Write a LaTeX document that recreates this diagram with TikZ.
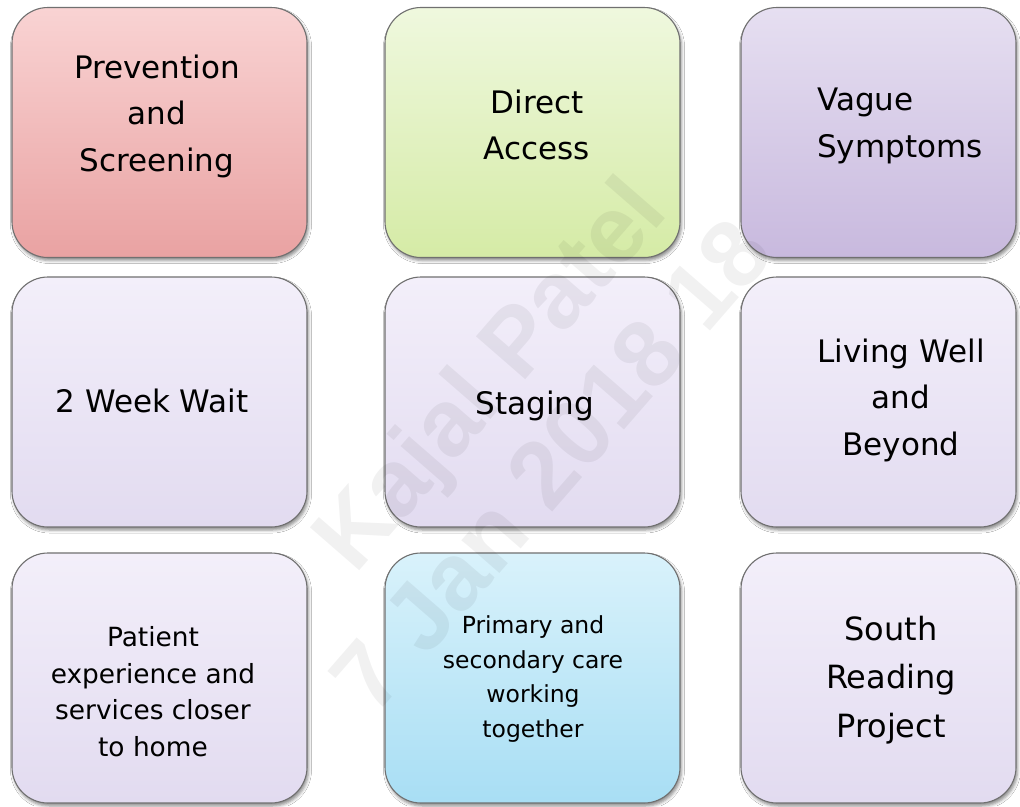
\documentclass[tikz,border=0pt]{standalone}
\usepackage{fontspec}
\setmainfont{DejaVu Sans}
\newfontfamily\wmfont{Liberation Sans}
\usetikzlibrary{shadows.blur}
\definecolor{pinkT}{HTML}{F9D3D3}
\definecolor{pinkB}{HTML}{E9A2A2}
\definecolor{greenT}{HTML}{EFF8DE}
\definecolor{greenB}{HTML}{D5EBA6}
\definecolor{purpT}{HTML}{E6DFF1}
\definecolor{purpB}{HTML}{C8B9DE}
\definecolor{lavT}{HTML}{F3EFFA}
\definecolor{lavB}{HTML}{E2DBF0}
\definecolor{blueT}{HTML}{D9F2FB}
\definecolor{blueB}{HTML}{A8DEF4}
\definecolor{boxline}{HTML}{707070}
\begin{document}
\begin{tikzpicture}[x=1pt,y=-1pt,
  box/.style={rectangle, rounded corners=36pt, draw=boxline, line width=1.1pt,
    inner sep=0pt, minimum height=250pt,
    blur shadow={shadow xshift=1.5pt, shadow yshift=-3pt, shadow blur radius=3pt, shadow opacity=45}},
  widebox/.style={box, minimum width=295pt},
  narrowbox/.style={box, minimum width=275pt},
  pinkbox/.style={top color=pinkT, bottom color=pinkB},
  greenbox/.style={top color=greenT, bottom color=greenB},
  purpbox/.style={top color=purpT, bottom color=purpB},
  lavbox/.style={top color=lavT, bottom color=lavB},
  bluebox/.style={top color=blueT, bottom color=blueB},
  bigtext/.style={font=\fontsize{31}{46.5}\selectfont, align=center, inner sep=0pt, text=black},
  midtext/.style={font=\fontsize{26.4}{36.5}\selectfont, align=center, inner sep=0pt, text=black},
  smalltext/.style={font=\fontsize{23.5}{34.7}\selectfont, align=center, inner sep=0pt, text=black},
  wmtext/.style={font=\wmfont\bfseries\fontsize{95}{110}\selectfont, text=black, text opacity=0.055,
    inner sep=0pt, anchor=base west, rotate=49}
]
\useasboundingbox (0,0) rectangle (1020,806);
\fill[white] (0,0) rectangle (1020,806);

% boxes
\node[widebox, pinkbox]  (b1) at (159.5,132.5) {};
\node[widebox, greenbox] (b2) at (532.5,132.5) {};
\node[narrowbox, purpbox] (b3) at (878.5,132.5) {};
\node[widebox, lavbox]   (b4) at (159.5,402) {};
\node[widebox, lavbox]   (b5) at (532.5,402) {};
\node[narrowbox, lavbox] (b6) at (878.5,402) {};
\node[widebox, lavbox]   (b7) at (159.5,678) {};
\node[widebox, bluebox]  (b8) at (532.5,678) {};
\node[narrowbox, lavbox] (b9) at (878.5,678) {};

% texts
\node[bigtext] (t1) at (157,116) {Prevention\\and\\Screening};
\node[bigtext] (t2) at (537,124.7) {Direct\\Access};
\node[bigtext, align=left, anchor=west] (t3) at (817,125.8) {Vague\\Symptoms};
\node[bigtext] (t4) at (152,400.5) {2 Week Wait};
\node[bigtext] (t5) at (535,406) {Staging};
\node[bigtext] (t6) at (901,400.4) {Living Well\\and\\Beyond};
\node[midtext] (t7) at (153,691.5) {Patient\\experience and\\services closer\\to home};
\node[smalltext] (t8) at (533,679) {Primary and\\secondary care\\working\\together};
\node[font=\fontsize{32}{48.5}\selectfont, align=center, inner sep=0pt] (t9) at (891,680) {South\\Reading\\Project};

% watermark
\node[wmtext] (wm1) at (355,576) {Kajal Patel};
\node[wmtext] (wm2) at (374,718) {7 Jan 2018 18};
\end{tikzpicture}
\end{document}
